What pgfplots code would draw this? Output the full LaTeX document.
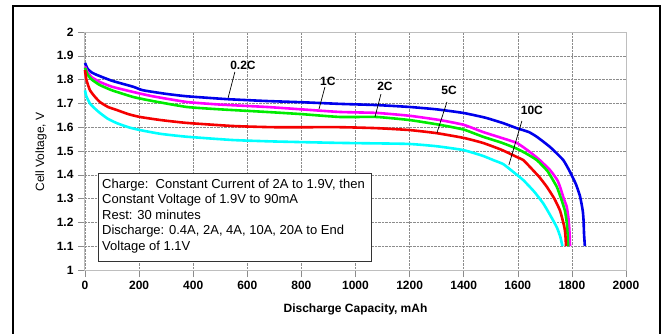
\documentclass[border=0pt]{standalone}
\usepackage{pgfplots}
\pgfplotsset{compat=1.18}
\usepackage{fontspec}
\setmainfont{Liberation Sans}
\definecolor{cBlue}{RGB}{0,0,235}
\definecolor{cMag}{RGB}{255,0,255}
\definecolor{cGreen}{RGB}{0,235,0}
\definecolor{cRed}{RGB}{245,0,0}
\definecolor{cCyan}{RGB}{0,255,255}
\definecolor{gridc}{RGB}{140,140,140}
\definecolor{axc}{RGB}{190,190,190}
\begin{document}
\begin{tikzpicture}[x=1pt,y=1pt]
\useasboundingbox (0,0) rectangle (665,333);
\draw[line width=1.5pt,black] (13,-2) -- (13,327) -- (660,327) -- (660,-2);
\begin{axis}[
  at={(85pt,63pt)}, anchor=south west,
  scale only axis, width=541pt, height=238pt,
  xmin=0, xmax=2000, ymin=1, ymax=2,
  xtick={0,200,...,2000}, ytick={1,1.1,...,2.01},
  /pgf/number format/1000 sep={},
  /pgf/number format/assume math mode=true,
  scaled ticks=false,
  grid=major,
  major grid style={gridc, densely dotted, line width=0.6pt},
  axis line style={axc, line width=1pt},
  tick align=outside, tick pos=left,
  major tick length=7pt,
  every tick/.style={gridc, line width=0.6pt},
  ticklabel style={font=\fontsize{12}{14}\selectfont\bfseries},
  yticklabel style={xshift=-1pt},
  xticklabel style={yshift=-1pt},
  clip=false,
]
\addplot[cBlue, line width=2.6pt, smooth, tension=0.3] coordinates {
(0,1.87) (10,1.845) (25,1.83) (43,1.82) (100,1.795) (178,1.77) (215,1.755) (300,1.74) (376,1.73) (524,1.718) (672,1.71) (800,1.705) (942,1.698) (1078,1.693) (1200,1.685) (1300,1.675) (1398,1.66) (1480,1.64) (1546,1.617) (1596,1.596) (1640,1.58) (1670,1.56) (1719,1.517) (1768,1.462) (1794,1.41) (1815,1.36) (1830,1.31) (1840,1.25) (1843,1.21) (1845,1.15) (1848,1.10)
};
\addplot[cMag, line width=2.6pt, smooth, tension=0.3] coordinates {
(0,1.855) (10,1.83) (25,1.81) (55,1.79) (100,1.77) (178,1.748) (250,1.73) (376,1.706) (500,1.695) (672,1.685) (800,1.675) (942,1.664) (1078,1.66) (1200,1.648) (1312,1.63) (1400,1.61) (1471,1.58) (1540,1.555) (1596,1.534) (1640,1.5) (1681,1.462) (1719,1.42) (1745,1.38) (1756,1.35) (1770,1.30) (1781,1.265) (1787,1.22) (1790,1.18) (1792,1.14) (1793,1.10)
};
\addplot[cGreen, line width=2.6pt, smooth, tension=0.3] coordinates {
(0,1.85) (10,1.82) (25,1.80) (55,1.777) (100,1.755) (178,1.727) (250,1.71) (376,1.685) (500,1.675) (672,1.664) (800,1.655) (942,1.643) (1078,1.643) (1200,1.63) (1312,1.61) (1400,1.59) (1471,1.56) (1540,1.535) (1596,1.51) (1630,1.49) (1670,1.462) (1710,1.415) (1744,1.35) (1760,1.30) (1774,1.25) (1781,1.20) (1784,1.15) (1786,1.10)
};
\addplot[cRed, line width=2.6pt, smooth, tension=0.3] coordinates {
(0,1.84) (5,1.80) (18,1.756) (35,1.73) (55,1.706) (85,1.685) (118,1.672) (160,1.655) (203,1.643) (280,1.63) (376,1.618) (548,1.605) (700,1.60) (942,1.60) (1078,1.596) (1200,1.588) (1300,1.575) (1400,1.555) (1471,1.534) (1540,1.505) (1596,1.475) (1620,1.462) (1645,1.433) (1680,1.39) (1707,1.35) (1735,1.30) (1756,1.25) (1768,1.20) (1774,1.168) (1777,1.13) (1778,1.10)
};
\addplot[cCyan, line width=2.6pt, smooth, tension=0.3] coordinates {
(0,1.755) (5,1.73) (18,1.70) (35,1.68) (55,1.66) (85,1.635) (118,1.617) (160,1.60) (203,1.588) (280,1.572) (376,1.56) (548,1.546) (700,1.54) (942,1.534) (1190,1.53) (1300,1.52) (1398,1.504) (1470,1.48) (1509,1.462) (1546,1.445) (1580,1.415) (1620,1.378) (1660,1.33) (1694,1.28) (1720,1.23) (1744,1.18) (1757,1.14) (1765,1.10)
};
% curve labels
\begin{scope}[every node/.style={font=\fontsize{12}{14}\selectfont\bfseries}]
\node at (axis cs:584,1.861) {0.2C};
\draw[black, line width=0.7pt] (axis cs:554,1.832) -- (axis cs:529,1.723);
\node at (axis cs:898,1.794) {1C};
\draw[black, line width=0.7pt] (axis cs:887,1.769) -- (axis cs:865,1.676);
\node at (axis cs:1109,1.773) {2C};
\draw[black, line width=0.7pt] (axis cs:1094,1.739) -- (axis cs:1072,1.643);
\node at (axis cs:1346,1.756) {5C};
\draw[black, line width=0.7pt] (axis cs:1338,1.706) -- (axis cs:1301,1.576);
\node at (axis cs:1652,1.672) {10C};
\draw[black, line width=0.7pt] (axis cs:1615,1.626) -- (axis cs:1567,1.441);
\end{scope}
\end{axis}
\node[rotate=90, font=\fontsize{12}{14}\selectfont] at (41,181) {Cell Voltage, V};
\node[font=\fontsize{12}{14}\selectfont\bfseries] at (355.5,24) {Discharge Capacity, mAh};
\draw[fill=white, draw=black!80, line width=1pt] (98,72) rectangle (371,160);
\begin{scope}[every node/.style={anchor=base west, inner sep=0pt, font=\fontsize{13}{15}\selectfont}]
\node at (102,145) {Charge:\ \ Constant Current of 2A to 1.9V, then};
\node at (102,129.5) {Constant Voltage of 1.9V to 90mA};
\node at (102,114) {Rest: 30 minutes};
\node at (102,98.5) {Discharge: 0.4A, 2A, 4A, 10A, 20A to End};
\node at (102,83) {Voltage of 1.1V};
\end{scope}
\end{tikzpicture}
\end{document}
